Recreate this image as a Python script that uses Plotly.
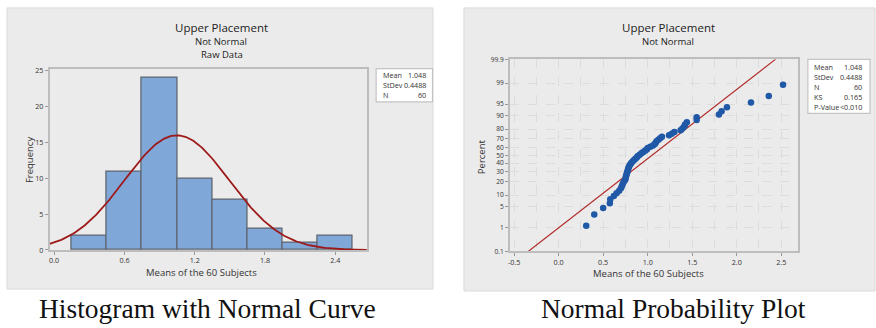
import numpy as np
import plotly.graph_objects as go
from statistics import NormalDist

# ---------------- data ----------------
BIN_CENTERS = [0.3, 0.6, 0.9, 1.2, 1.5, 1.8, 2.1, 2.4]
BIN_COUNTS = [2, 11, 24, 10, 7, 3, 1, 2]
BIN_WIDTH = 0.3
HIST_XTICKS = [0.0, 0.6, 1.2, 1.8, 2.4]
HIST_YTICKS = [0, 5, 10, 15, 20, 25]

MEAN = 1.048
STDEV = 0.4488
N = 60

# sorted subject means
SUBJECT_MEANS = [
    0.31, 0.40,
    0.50, 0.575, 0.58, 0.62, 0.65, 0.68, 0.70, 0.71, 0.72, 0.73, 0.745,
    0.752, 0.755, 0.76, 0.765, 0.77, 0.775, 0.78, 0.785, 0.79, 0.80, 0.81, 0.82,
    0.835, 0.85, 0.865, 0.88, 0.89, 0.91, 0.93, 0.95, 0.97, 0.99, 1.00, 1.03,
    1.06, 1.08, 1.09, 1.10, 1.12, 1.14, 1.16, 1.24, 1.27, 1.30,
    1.37, 1.39, 1.41, 1.42, 1.44, 1.55, 1.55,
    1.80, 1.83, 1.89,
    2.16,
    2.36, 2.52,
]
PCT_TICKS = [0.1, 1, 5, 10, 20, 30, 40, 50, 60, 70, 80, 90, 95, 99, 99.9]
PCT_LABELS = ["0.1", "1", "5", "10", "20", "30", "40", "50", "60", "70", "80", "90", "95", "99", "99.9"]
PROB_XTICKS = [-0.5, 0.0, 0.5, 1.0, 1.5, 2.0, 2.5]

HIST_STATS = [("Mean", "1.048"), ("StDev", "0.4488"), ("N", "60")]
PROB_STATS = [("Mean", "1.048"), ("StDev", "0.4488"), ("N", "60"), ("KS", "0.165"), ("P-Value", "<0.010")]

# ---------------- helpers ----------------
W, H = 876, 328
nd = NormalDist()


def px(x):
    return x / W


def py(y):
    return 1 - y / H


FONT = "Open Sans"
BAR_FILL = "#7FA7D8"
BAR_LINE = "#5F6670"
CURVE = "#9E1A1A"
DOT = "#1F58A6"
GRAY_BG = "#EBEBEB"
FRAME = "#BDBDBD"
TXT = "#333333"

fig = go.Figure()

# ---------- histogram ----------
fig.add_trace(go.Bar(
    x=BIN_CENTERS, y=BIN_COUNTS, width=BIN_WIDTH,
    marker=dict(color=BAR_FILL, line=dict(color=BAR_LINE, width=1.3)),
    xaxis="x", yaxis="y", showlegend=False, hoverinfo="x+y",
))
HX_RANGE = [-0.039, 2.67]
xc = np.linspace(HX_RANGE[0], HX_RANGE[1], 300)
dist = NormalDist(MEAN, STDEV)
yc = [N * BIN_WIDTH * dist.pdf(v) for v in xc]
fig.add_trace(go.Scatter(
    x=xc, y=yc, mode="lines", line=dict(color=CURVE, width=1.8),
    xaxis="x", yaxis="y", showlegend=False, hoverinfo="skip",
))

# ---------- probability plot ----------
n = len(SUBJECT_MEANS)
zpts = [nd.inv_cdf((i - 0.3) / (n + 0.4)) for i in range(1, n + 1)]
zlo, zhi = nd.inv_cdf(0.001), nd.inv_cdf(0.999)
fig.add_trace(go.Scatter(
    x=[MEAN + STDEV * zlo, MEAN + STDEV * zhi], y=[zlo, zhi], mode="lines",
    line=dict(color="#B22A2A", width=1.1),
    xaxis="x2", yaxis="y2", showlegend=False, hoverinfo="skip",
))
fig.add_trace(go.Scatter(
    x=SUBJECT_MEANS, y=zpts, mode="markers",
    marker=dict(color=DOT, size=6.5),
    xaxis="x2", yaxis="y2", showlegend=False,
))

axis_common = dict(
    showline=True, mirror=True, linecolor=FRAME, linewidth=1.5,
    ticks="outside", ticklen=3, tickcolor="#999999",
    zeroline=False, fixedrange=True,
)
tickfont = dict(family=FONT, size=7.2, color=TXT)
tickfont_small = dict(family=FONT, size=6.6, color=TXT)

fig.update_layout(
    width=W, height=H,
    margin=dict(l=0, r=0, t=0, b=0),
    paper_bgcolor="white", plot_bgcolor="white",
    font=dict(family=FONT, color=TXT),
    bargap=0,
    xaxis=dict(domain=[px(47.7), px(365.7)], range=HX_RANGE, tickvals=HIST_XTICKS,
               ticktext=[f"{v:.1f}" for v in HIST_XTICKS], showgrid=False, anchor="y",
               tickfont=tickfont, **axis_common),
    yaxis=dict(domain=[py(252.7), py(65.7)], range=[0, 25.31], tickvals=HIST_YTICKS,
               showgrid=False, anchor="x", tickfont=tickfont, **axis_common),
    xaxis2=dict(domain=[px(509), px(798)], range=[-0.548, 2.69], tickvals=PROB_XTICKS,
                ticktext=[f"{v:.1f}" for v in PROB_XTICKS], anchor="y2",
                showgrid=True, gridcolor="#DCDCDC", griddash="dash", gridwidth=1,
                minor=dict(dtick=0.25, tick0=0, showgrid=True, gridcolor="#DCDCDC", griddash="dash", ticks=""),
                tickfont=tickfont, **axis_common),
    yaxis2=dict(domain=[py(254), py(56)], range=[zlo, zhi],
                tickvals=[nd.inv_cdf(p / 100) for p in PCT_TICKS], ticktext=PCT_LABELS,
                showgrid=True, gridcolor="#DCDCDC", griddash="dash", gridwidth=1, anchor="x2",
                tickfont=tickfont_small, **axis_common),
)

shapes = [
    dict(type="rect", xref="paper", yref="paper", x0=px(5), x1=px(432), y0=py(293), y1=py(3),
         fillcolor=GRAY_BG, line=dict(color="#DADADA", width=1), layer="below"),
    dict(type="rect", xref="paper", yref="paper", x0=px(463), x1=px(875), y0=py(295), y1=py(3),
         fillcolor=GRAY_BG, line=dict(color="#DADADA", width=1), layer="below"),
    # stats boxes
    dict(type="rect", xref="paper", yref="paper", x0=px(375), x1=px(431.5), y0=py(100), y1=py(65.7),
         fillcolor="white", line=dict(color="#C4C4C4", width=1.2)),
    dict(type="rect", xref="paper", yref="paper", x0=px(807.7), x1=px(870), y0=py(111.7), y1=py(56),
         fillcolor="white", line=dict(color="#C4C4C4", width=1.2)),
]
fig.update_layout(shapes=shapes)

ann = []


def text(x, y, s, size, anchor="center", angle=0, family=FONT, color=TXT):
    ann.append(dict(x=px(x), y=py(y), xref="paper", yref="paper", text=s, showarrow=False,
                    xanchor=anchor, yanchor="middle", textangle=angle,
                    font=dict(family=family, size=size, color=color)))


# titles
text(220, 22.7, "Upper Placement", 11.5, color="#222222")
text(220, 37.7, "Not Normal", 9.5, color="#222222")
text(221, 50.7, "Raw Data", 9.5, color="#222222")
text(667.7, 22.7, "Upper Placement", 11.5, color="#222222")
text(667.7, 37.7, "Not Normal", 9.5, color="#222222")

# axis titles
text(200, 276, "Means of the 60 Subjects", 9.5)
text(27, 160, "Frequency", 9.5, angle=-90)
text(648, 276.7, "Means of the 60 Subjects", 9.5)
text(480, 156, "Percent", 9.5, angle=-90)

# stats boxes
for k, (lab, val) in enumerate(HIST_STATS):
    yy = 72.7 + k * 10.3
    text(379.5, yy, lab, 7.2, anchor="left")
    text(426.5, yy, val, 7.2, anchor="right")
for k, (lab, val) in enumerate(PROB_STATS):
    yy = 64.3 + k * 10.25
    text(812, yy, lab, 7.2, anchor="left")
    text(864, yy, val, 7.2, anchor="right")

# captions
text(206, 313, "Histogram with Normal Curve", 27.5, family="Liberation Serif", color="#111111")
text(673, 313, "Normal Probability Plot", 27.5, family="Liberation Serif", color="#111111")

fig.update_layout(annotations=ann)

fig.write_html("out.html", config={"displayModeBar": False},
               post_script="document.body.style.margin='0';document.body.style.overflow='hidden';")
